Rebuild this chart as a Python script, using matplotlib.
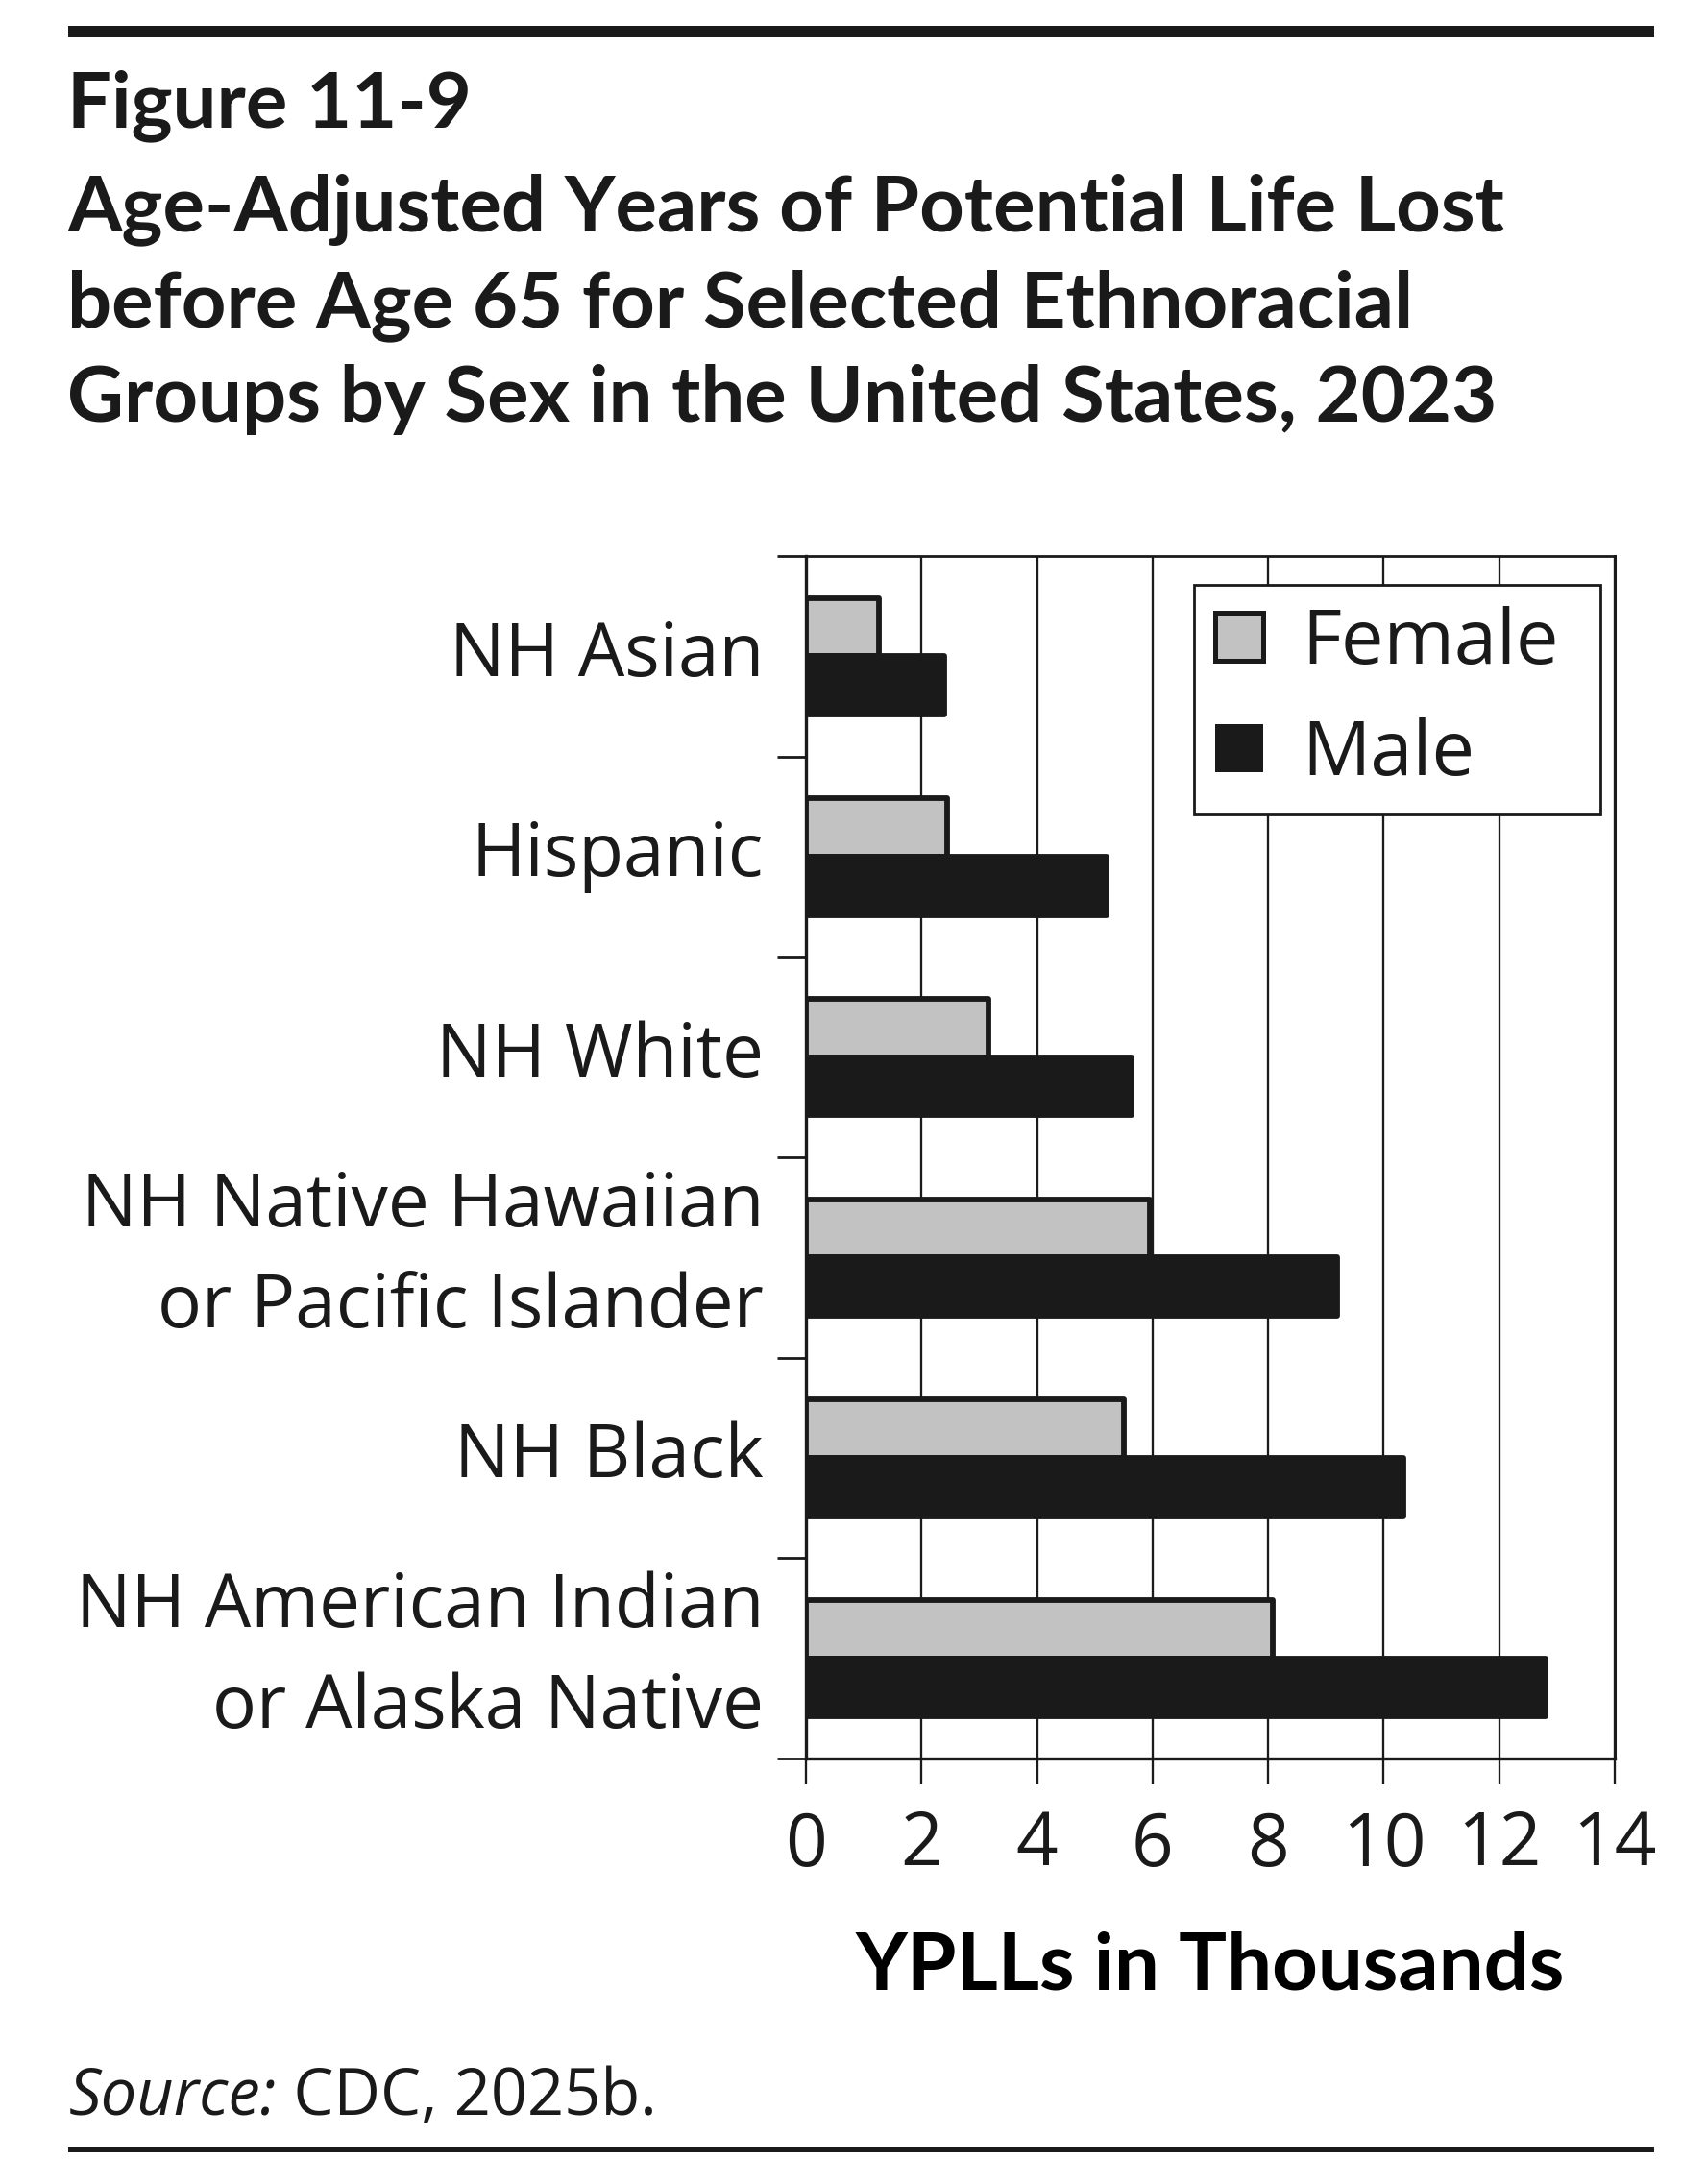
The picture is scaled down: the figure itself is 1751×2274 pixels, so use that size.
import matplotlib
matplotlib.use('Agg')
import matplotlib.pyplot as plt
from matplotlib.patches import Patch
from matplotlib.lines import Line2D
import numpy as np

# ---------------- data ----------------
categories = ["NH Asian", "Hispanic", "NH White",
              "NH Native Hawaiian\nor Pacific Islander", "NH Black",
              "NH American Indian\nor Alaska Native"]
female = [1.27, 2.45, 3.16, 5.95, 5.50, 8.08]
male = [2.39, 5.21, 5.64, 9.19, 10.35, 12.80]
series_labels = ["Female", "Male"]
xticks = [0, 2, 4, 6, 8, 10, 12, 14]
xticklabels = ["0", "2", "4", "6", "8", "10", "12", "14"]
title_lines = ["Figure 11-9",
               "Age-Adjusted Years of Potential Life Lost",
               "before Age 65 for Selected Ethnoracial",
               "Groups by Sex in the United States, 2023"]
xlabel_text = "YPLLs in Thousands"
source_label = "Source:"
source_rest = " CDC, 2025b."

# ---------------- style ----------------
W, H, DPI = 1751, 2274, 100
PT = DPI / 72.0
INK = '#1a1a1a'
GREY = '#c2c2c2'
BOLD_FAMILY = ['Lato', 'Open Sans', 'DejaVu Sans']
plt.rcParams['font.family'] = ['Open Sans', 'DejaVu Sans']
plt.rcParams['text.color'] = INK
plt.rcParams['axes.edgecolor'] = INK
plt.rcParams['xtick.color'] = INK
plt.rcParams['ytick.color'] = INK

fig = plt.figure(figsize=(W / DPI, H / DPI), dpi=DPI)
fig.patch.set_facecolor('white')
renderer = fig.canvas.get_renderer()


def fx(px):
    return px / W


def fy(py):
    return 1 - py / H


def text_width(s, fs, **kw):
    t = fig.text(0, 0, s, fontsize=fs, **kw)
    w = t.get_window_extent(renderer).width
    t.remove()
    return w


def fit(s, target, base=50.0, **kw):
    return base * target / text_width(s, base, **kw)


def line_step(fs, ls, **kw):
    t1 = fig.text(0, 0, "Ag", fontsize=fs, linespacing=ls, **kw)
    h1 = t1.get_window_extent(renderer).height
    t1.remove()
    t2 = fig.text(0, 0, "Ag\nAg", fontsize=fs, linespacing=ls, **kw)
    h2 = t2.get_window_extent(renderer).height
    t2.remove()
    return h2 - h1


# ---------------- axes ----------------
ax_l, ax_r, ax_t, ax_b = 839, 1681, 579, 1831
ax = fig.add_axes([fx(ax_l), fy(ax_b), fx(ax_r - ax_l), (ax_b - ax_t) / H])

y = np.arange(len(categories))
bh = 0.29
bar_lw = 4.2
ax.barh(y - 0.145, female, height=bh, color=GREY, edgecolor=INK,
        linewidth=bar_lw, joinstyle='round', zorder=3)
ax.barh(y + 0.145, male, height=bh, color=INK, edgecolor=INK,
        linewidth=bar_lw, joinstyle='round', zorder=3)

ax.set_xlim(0, 14)
ax.set_ylim(len(categories) - 0.5, -0.5)

# grid
ax.set_axisbelow(True)
ax.xaxis.grid(True, color=INK, linewidth=1.65)
ax.yaxis.grid(False)

# spines
for side, lw in [('left', 2.4), ('bottom', 2.4), ('top', 2.0), ('right', 2.2)]:
    ax.spines[side].set_linewidth(lw)
    ax.spines[side].set_color(INK)

# x ticks
fs_tick = 55
ax.set_xticks(xticks)
ax.set_xticklabels(xticklabels, fontsize=fs_tick)
ax.tick_params(axis='x', direction='out', length=26 / PT, width=1.65,
               pad=27 / PT)

# y ticks: boundaries as major (no labels), categories as minor labels
ax.set_yticks(np.arange(len(categories) + 1) - 0.5)
ax.set_yticklabels([])
ax.tick_params(axis='y', which='major', direction='out', length=30 / PT,
               width=2.0)
fs_lab = fit("NH American Indian", 717)
ls_target = 105
s1 = line_step(fs_lab, 1.0)
s2 = line_step(fs_lab, 2.0)
ls_lab = 1.0 + (ls_target - s1) / (s2 - s1)
ax.set_yticks(y, minor=True)
ax.set_yticklabels(categories, minor=True, fontsize=fs_lab,
                   linespacing=ls_lab, va='center', ha='right')
ax.tick_params(axis='y', which='minor', length=0, pad=44 / PT)

# x label
fs_xl = fit(xlabel_text, 740, weight='bold', family=BOLD_FAMILY)
ax.set_xlabel(xlabel_text, fontsize=fs_xl, weight='bold', family=BOLD_FAMILY)
ax.xaxis.set_label_coords(0.5, (ax_b - 2072) / (ax_b - ax_t))
ax.xaxis.label.set_va('baseline')

# legend
fs_leg = fit("Female", 268)
fs_leg_px = fs_leg * PT
handles = [Patch(facecolor=GREY, edgecolor=INK, linewidth=3.6, joinstyle='round'),
           Patch(facecolor=INK, edgecolor=INK, linewidth=0)]
leg_l, leg_r, leg_t, leg_b = 1243, 1666, 609, 836
leg = ax.legend(handles, series_labels, loc='upper left',
                bbox_to_anchor=(fx(leg_l), fy(leg_b), fx(leg_r - leg_l), (leg_b - leg_t) / H),
                bbox_transform=fig.transFigure, mode='expand',
                fontsize=fs_leg, frameon=True, fancybox=False, framealpha=1,
                edgecolor=INK, borderaxespad=0, borderpad=0.28,
                handlelength=50 / fs_leg_px, handleheight=0.6,
                handletextpad=40 / fs_leg_px, labelspacing=0.46)
leg.get_frame().set_linewidth(2.0)
leg.set_zorder(5)

# ---------------- title ----------------
fs_title = fit(title_lines[1], 1499, weight='bold', family=BOLD_FAMILY)
for line, base in zip(title_lines, [132, 240, 340, 439]):
    fig.text(fx(70), fy(base), line, fontsize=fs_title, weight='bold',
             family=BOLD_FAMILY, ha='left', va='baseline')

# ---------------- source ----------------
fs_src = 50.0 * 612 / (text_width(source_label, 50, style='italic') +
                       text_width(source_rest, 50))
t_src = fig.text(fx(72), fy(2202), source_label, fontsize=fs_src,
                 style='italic', ha='left', va='baseline')
w_src = t_src.get_window_extent(renderer).width
fig.text(fx(72 + w_src), fy(2202), source_rest, fontsize=fs_src,
         ha='left', va='baseline')

# ---------------- rules ----------------
fig.add_artist(Line2D([fx(71), fx(1722)], [fy(33), fy(33)], transform=fig.transFigure,
                      color=INK, linewidth=12 / PT, solid_capstyle='butt'))
fig.add_artist(Line2D([fx(71), fx(1722)], [fy(2238), fy(2238)], transform=fig.transFigure,
                      color=INK, linewidth=6 / PT, solid_capstyle='butt'))

fig.savefig('out.png', dpi=DPI, facecolor='white')
